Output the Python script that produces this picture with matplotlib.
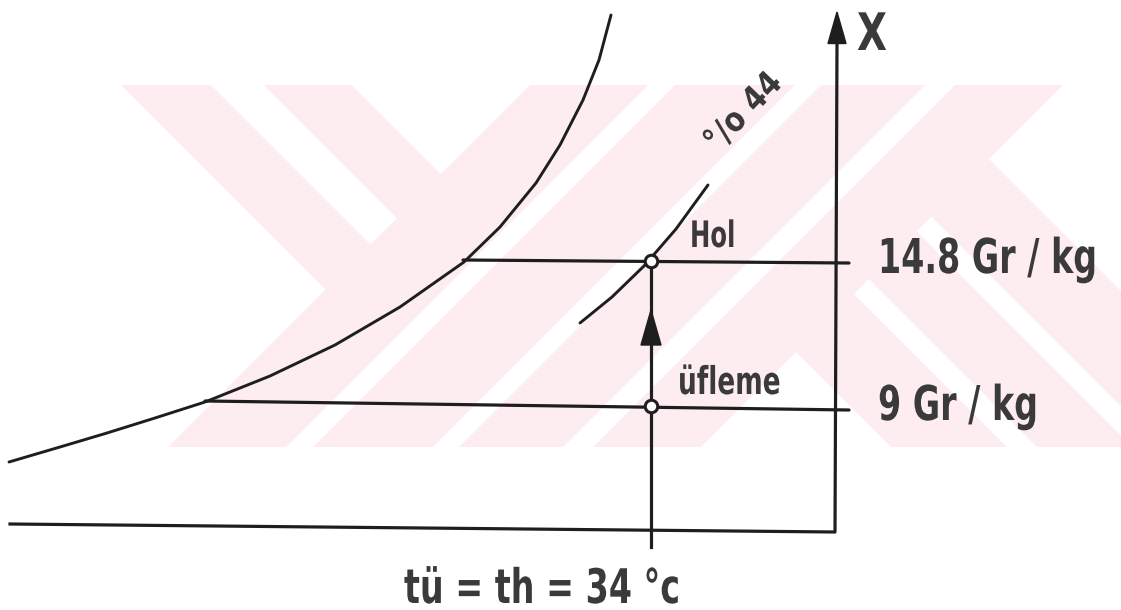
import matplotlib
matplotlib.use("Agg")
import matplotlib.pyplot as plt
import matplotlib.patheffects as pe
from matplotlib.patches import Polygon
from matplotlib.transforms import Affine2D

# Doyma egrisi (phi = %100): x ekseni sicaklik, y ekseni nem (g/kg)
sat_t = [1.9, 4.45, 6.8, 9.2, 11.7, 14.95, 18.2, 21.45, 24.65, 26.45, 28.25,
         29.45, 30.6, 31.4, 32.0]
sat_x = [6.76, 7.36, 7.92, 8.52, 9.16, 10.2, 11.44, 12.96, 14.76, 16.16, 17.92,
         19.44, 21.24, 22.84, 24.64]

# %44 bagil nem egrisi
rh44_t = [30.45, 32.05, 33.65, 35.25, 36.85]
rh44_x = [12.32, 13.36, 14.6, 16.08, 17.84]

# nem seviyeleri (elle cizilmis, hafif egik)
level_labels = ["14.8 Gr / kg", "9 Gr / kg"]
level_t_start = [24.6, 11.7]
level_t_end = [43.9, 43.9]
level_x_start = [14.84, 9.2]
level_x_end = [14.72, 8.84]

# eksen cizgileri
axis_t = [1.95, 43.2, 43.3]
axis_x = [4.28, 3.96, 23.5]
axis_tip = 24.76

# proses: ufleme -> hol, tu = th = 34 C
t_process = 34.0
x_ufleme = 9.0
x_hol = 14.8
x_process_bottom = 3.36

ink = "#1e1e1e"
text_ink = "#3a3a3a"


class Stretch(pe.AbstractPathEffect):
    # el yazisi gibi dar ve uzun harfler icin dikey germe
    def __init__(self, sy):
        super().__init__()
        self.sy = sy

    def draw_path(self, renderer, gc, tpath, affine, rgbFace=None):
        renderer.draw_path(gc, tpath, Affine2D().scale(1.0, self.sy) + affine, rgbFace)


def label(ax, t, x, s, size, sy=1.4, **kw):
    return ax.text(t, x, s, fontsize=size, family="DejaVu Sans", weight="bold",
                   color=text_ink, ha="left", va="baseline",
                   path_effects=[Stretch(sy)], **kw)


fig = plt.figure(figsize=(11.21, 6.10), dpi=100)

# filigran (arka plan, piksel koordinatlari)
bg = fig.add_axes([0, 0, 1, 1], zorder=0)
bg.set_xlim(0, 1121)
bg.set_ylim(610, 0)
bg.axis("off")
band_top, band_bot = 85, 447
pink = "#fdedf0"


def slash(a, b):
    return [(a - band_top, band_top), (b - band_top, band_top),
            (b - band_bot, band_bot), (a - band_bot, band_bot)]


def back_to(a, b, stop):
    # "\" serit, ustten x+y = stop cizgisine kadar
    return [(a + band_top, band_top), (b + band_top, band_top),
            ((b + stop) / 2, (stop - b) / 2), ((a + stop) / 2, (stop - a) / 2)]


def back_from(a, b, start):
    # "\" serit, x+y = start cizgisinden alta kadar
    return [((a + start) / 2, (start - a) / 2), ((b + start) / 2, (start - b) / 2),
            (b + band_bot, band_bot), (a + band_bot, band_bot)]


stripes = [back_to(36, 126, 625), back_to(179, 267, 625),
           slash(615, 733), slash(760, 880), slash(906, 1010), slash(1040, 1148),
           back_from(444, 560, 1148), back_from(590, 685, 1148),
           back_from(715, 830, 1148)]
for s in stripes:
    bg.add_patch(Polygon(s, closed=True, facecolor=pink, edgecolor="none"))

ax = fig.add_axes([0, 0, 1, 1], zorder=1)
ax.patch.set_alpha(0)
ax.set_xlim(1.45, 57.5)
ax.set_ylim(0.84, 25.24)
ax.axis("off")

# egriler
ax.plot(sat_t, sat_x, color=ink, lw=2.1, solid_capstyle="round",
        solid_joinstyle="round")
ax.plot(rh44_t, rh44_x, color=ink, lw=2.1, solid_capstyle="round",
        solid_joinstyle="round")

# seviye cizgileri ve etiketleri
for i in range(len(level_labels)):
    ax.plot([level_t_start[i], level_t_end[i]], [level_x_start[i], level_x_end[i]],
            color=ink, lw=2.3, solid_capstyle="round")
    label(ax, 45.35, level_x_end[i] - 0.4, level_labels[i], 24, sy=1.44)

# eksenler
ax.plot(axis_t, axis_x, color=ink, lw=2.3, solid_joinstyle="round")
ax.fill([axis_t[-1] - 0.45, axis_t[-1], axis_t[-1] + 0.45],
        [axis_x[-1], axis_tip, axis_x[-1]], color=ink, lw=1)
label(ax, 44.3, 23.24, "X", 28, sy=1.33)

# proses cizgisi
ax.plot([t_process, t_process], [x_process_bottom, x_hol], color=ink, lw=2.3)
ax.fill([t_process - 0.5, t_process, t_process + 0.5],
        [11.44, 12.84, 11.44], color=ink, lw=1)
ax.plot([t_process, t_process], [x_ufleme, x_hol], ls="none", marker="o",
        ms=9, mfc="white", mec=ink, mew=2.2, zorder=5)

# yazilar
label(ax, 35.95, 15.36, "Hol", 17.5, sy=1.5)
label(ax, 35.35, 9.48, "üfleme", 19, sy=1.45)
label(ax, 37.3, 19.1, "°/o 44", 21, sy=1.15, rotation=46,
      rotation_mode="anchor")
label(ax, 21.65, 1.12, "tü = th = 34 °c", 24, sy=1.43)

fig.savefig("out.png", dpi=100)
plt.close(fig)
